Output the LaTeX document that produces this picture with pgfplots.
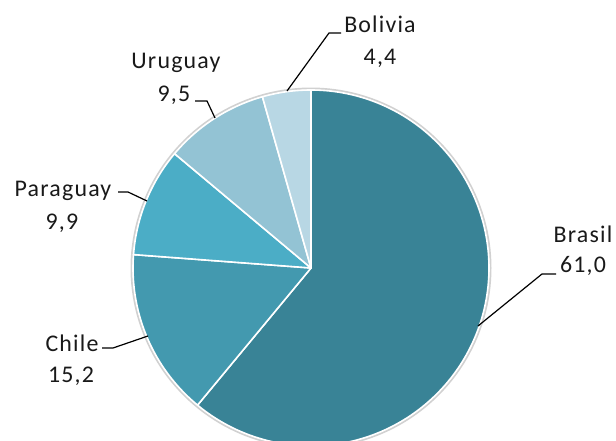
\documentclass[border=0pt]{standalone}
\usepackage{pgfplots}
\pgfplotsset{compat=1.18}
\usepackage{fontspec}
\setmainfont{Carlito}
\newfontfamily\lab[LetterSpace=5]{Carlito}
\definecolor{cBr}{HTML}{398396}
\definecolor{cCh}{HTML}{4399AF}
\definecolor{cPa}{HTML}{4BADC6}
\definecolor{cUr}{HTML}{93C3D4}
\definecolor{cBo}{HTML}{B8D7E4}
\begin{document}
\begin{tikzpicture}
\begin{axis}[name=ax, hide axis, scale only axis, x=1bp, y=1bp,
  xmin=0, xmax=616, ymin=0, ymax=441]
% shadow edge
\addplot[draw=black!18, line width=2bp, domain=0:360, samples=180] ({311+179.5*cos(x)},{173+179.5*sin(x)});
% slices: values (percent) Brasil 61.0, Chile 15.2, Paraguay 9.9, Uruguay 9.5, Bolivia 4.4; clockwise from 90 deg
\addplot[fill=cBr, draw=white, line width=1.6bp, line join=round, domain={90-3.6*61.0}:90, samples=150]
  ({311+178*cos(x)},{173+178*sin(x)}) -- (axis cs:311,173) -- cycle;
\addplot[fill=cCh, draw=white, line width=1.6bp, line join=round, domain={90-3.6*(61.0+15.2)}:{90-3.6*61.0}, samples=60]
  ({311+178*cos(x)},{173+178*sin(x)}) -- (axis cs:311,173) -- cycle;
\addplot[fill=cPa, draw=white, line width=1.6bp, line join=round, domain={90-3.6*(61.0+15.2+9.9)}:{90-3.6*(61.0+15.2)}, samples=40]
  ({311+178*cos(x)},{173+178*sin(x)}) -- (axis cs:311,173) -- cycle;
\addplot[fill=cUr, draw=white, line width=1.6bp, line join=round, domain={90-3.6*(61.0+15.2+9.9+9.5)}:{90-3.6*(61.0+15.2+9.9)}, samples=40]
  ({311+178*cos(x)},{173+178*sin(x)}) -- (axis cs:311,173) -- cycle;
\addplot[fill=cBo, draw=white, line width=1.6bp, line join=round, domain={90-3.6*(61.0+15.2+9.9+9.5+4.4)}:{90-3.6*(61.0+15.2+9.9+9.5)}, samples=30]
  ({311+178*cos(x)},{173+178*sin(x)}) -- (axis cs:311,173) -- cycle;
% leader lines
\draw[black, line width=1.2bp] (axis cs:287,350) -- (axis cs:329,408) -- (axis cs:341,408);
\draw[black, line width=1.2bp] (axis cs:195,340) -- (axis cs:207,340) -- (axis cs:215,323);
\draw[black, line width=1.2bp] (axis cs:118,249) -- (axis cs:128,249) -- (axis cs:147,240);
\draw[black, line width=1.2bp] (axis cs:102,93) -- (axis cs:113,93) -- (axis cs:148,105);
\draw[black, line width=1.2bp] (axis cs:556,167) -- (axis cs:542,167) -- (axis cs:478,115);
% labels
\tikzset{lbl/.style={anchor=base, inner sep=0pt, font=\lab\fontsize{24pt}{28pt}\selectfont, text=black!90}}
\node[lbl] at (axis cs:380,408) {Bolivia};
\node[lbl] at (axis cs:380,376) {4,4};
\node[lbl] at (axis cs:176,372) {Uruguay};
\node[lbl] at (axis cs:174,339) {9,5};
\node[lbl] at (axis cs:63,244) {Paraguay};
\node[lbl] at (axis cs:62,211) {9,9};
\node[lbl] at (axis cs:72,89) {Chile};
\node[lbl] at (axis cs:71,58) {15,2};
\node[lbl] at (axis cs:583,198) {Brasil};
\node[lbl] at (axis cs:583,168) {61,0};
\end{axis}
\pgfresetboundingbox
\path (ax.south west) rectangle (ax.north east);
\end{tikzpicture}
\end{document}
